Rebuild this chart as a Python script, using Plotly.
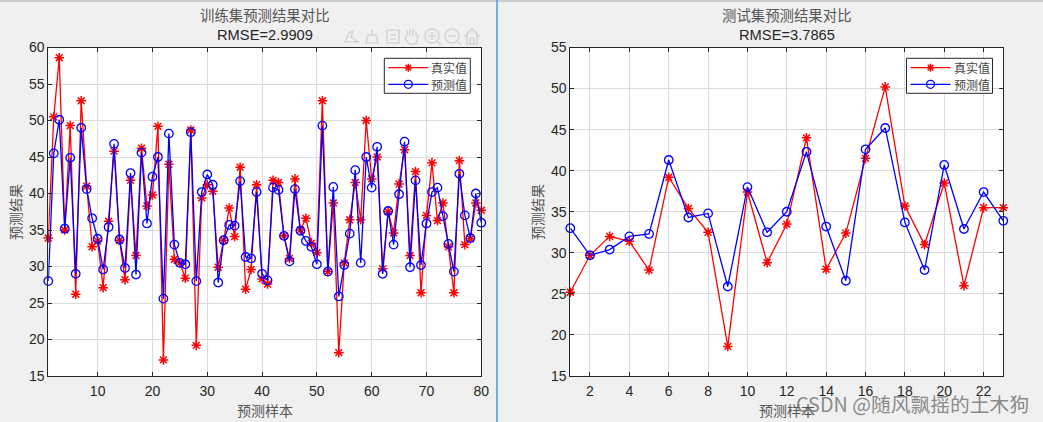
import plotly.graph_objects as go

W, H = 1043, 422

train_x = list(range(1, 81))
train_true = [33.9, 50.5, 58.6, 35, 49.3, 26.2, 52.7, 41, 32.7, 33.5,
              27.1, 36.2, 45.8, 33.6, 28.2, 41.8, 31.5, 46.2, 38.3, 39.8,
              49.2, 17.2, 44, 31, 30.5, 28.4, 48.7, 19.2, 39.4, 41.2,
              40.3, 29.9, 33.6, 38, 34.1, 43.6, 26.9, 29.6, 41.2, 28.3,
              27.6, 41.8, 41.5, 34.2, 31.1, 42, 35, 36.6, 33.2, 31.9,
              52.7, 29.3, 38.7, 18.2, 30.5, 36.4, 41.5, 36.4, 50, 42,
              45, 29.7, 37.5, 34.6, 41.3, 46, 31.5, 43, 26.4, 37,
              44.2, 36.3, 38.7, 32.7, 26.4, 44.5, 33, 33.8, 38.7, 37.7]
train_pred = [28, 45.5, 50.1, 35.2, 44.9, 29, 49, 40.6, 36.6, 33.8,
              29.6, 35.4, 46.8, 33.7, 29.8, 42.8, 28.9, 45.6, 35.9, 42.3,
              45, 25.6, 48.2, 33, 30.5, 30.3, 48.4, 28, 40.2, 42.6,
              41.2, 27.8, 33.6, 35.7, 35.6, 41.7, 31.3, 31.1, 40.2, 29,
              28.1, 40.8, 40.5, 34.2, 30.7, 40.6, 34.9, 33.5, 32.7, 30.3,
              49.3, 29.3, 40.9, 25.9, 30.2, 34.5, 43.2, 30.5, 45, 40.8,
              46.4, 29, 37.6, 33, 39.9, 47.1, 29.9, 41.8, 30.2, 35.9,
              40.2, 40.8, 36.9, 33.1, 29.3, 42.7, 37, 33.9, 40, 36]

test_x = list(range(1, 24))
test_true = [25.2, 29.7, 32, 31.4, 27.9, 39.2, 35.4, 32.5, 18.6, 37.4, 28.8, 33.5,
             44, 28, 32.4, 41.5, 50.2, 35.7, 31, 38.5, 26, 35.5, 35.5]
test_pred = [33, 29.7, 30.4, 32, 32.3, 41.3, 34.3, 34.8, 25.9, 38, 32.5, 35,
             42.3, 33.2, 26.6, 42.6, 45.2, 33.7, 27.9, 40.7, 32.9, 37.4, 33.9]

train_xticks = [10, 20, 30, 40, 50, 60, 70, 80]
test_xticks = list(range(2, 24, 2))
train_yticks = list(range(15, 61, 5))
test_yticks = list(range(15, 56, 5))

INK = "#262626"
GRID = "#dcdcdc"
RED = "#ff0000"
BLUE = "#0000ff"
CJK = "Noto Sans CJK SC"
LATIN = "Liberation Sans"


def px_x(v):
    return v / W


def px_y(v):
    return 1 - v / H


def add_pair(fig, x, y_true, y_pred, xaxis, yaxis):
    fig.add_trace(go.Scatter(x=x, y=y_true, name="真实值", mode="lines+markers",
                             xaxis=xaxis, yaxis=yaxis, cliponaxis=False,
                             line=dict(color=RED, width=1.3),
                             marker=dict(symbol="asterisk-open", size=8,
                                         line=dict(color=RED, width=1.5))))
    fig.add_trace(go.Scatter(x=x, y=y_pred, name="预测值", mode="lines+markers",
                             xaxis=xaxis, yaxis=yaxis, cliponaxis=False,
                             line=dict(color=BLUE, width=1.3),
                             marker=dict(symbol="circle-open", size=8.5,
                                         line=dict(color=BLUE, width=1.3))))


def axis_style(**kw):
    return dict(showline=True, linecolor=INK, linewidth=1, mirror="ticks",
                ticks="inside", ticklen=4, tickcolor=INK, tickwidth=1,
                showgrid=True, gridcolor=GRID, gridwidth=1, zeroline=False,
                tickfont=dict(family=LATIN, size=14, color=INK), **kw)


def text(x, y, s, size, color="#555555", family=CJK, angle=0):
    return dict(x=px_x(x), y=px_y(y), xref="paper", yref="paper", text=s, showarrow=False,
                xanchor="center", yanchor="middle", textangle=angle,
                font=dict(family=family, size=size, color=color))


def paper_shape(kind, x0, y0, x1, y1, color, width=1.3, fill=None):
    s = dict(type=kind, xref="paper", yref="paper", x0=px_x(x0), x1=px_x(x1), y0=px_y(y0), y1=px_y(y1),
             line=dict(color=color, width=width))
    if fill:
        s["fillcolor"] = fill
    return s


def icon_path(p):
    parts = p.replace("Z", " Z ").split()
    out, i = [], 0
    while i < len(parts):
        if parts[i] == "Z":
            out.append("Z")
            i += 1
        else:
            out.append(f"{parts[i][0]}{px_x(float(parts[i][1:])):.5f} {px_y(float(parts[i + 1])):.5f}")
            i += 2
    return " ".join(out)


# native legend can't get as short as the reference box, so it is drawn by hand
def legend_parts(x0):
    cx = x0 + 24
    row1, row2 = 67.7, 84.3
    r = 4
    d = r * 0.7
    shapes = [
        paper_shape("rect", x0, 58.3, x0 + 86, 93.3, INK, 1, "white"),
        paper_shape("line", x0 + 4, row1, x0 + 44, row1, RED),
        paper_shape("line", x0 + 4, row2, x0 + 44, row2, BLUE),
        paper_shape("line", cx - r, row1, cx + r, row1, RED, 1.5),
        paper_shape("line", cx, row1 - r, cx, row1 + r, RED, 1.5),
        paper_shape("line", cx - d, row1 - d, cx + d, row1 + d, RED, 1.5),
        paper_shape("line", cx - d, row1 + d, cx + d, row1 - d, RED, 1.5),
        paper_shape("circle", cx - r, row2 - r, cx + r, row2 + r, BLUE),
    ]
    notes = [text(x0 + 65, row1, "真实值", 12, "#444444"),
             text(x0 + 65, row2, "预测值", 12, "#444444")]
    return shapes, notes


fig = go.Figure()
add_pair(fig, train_x, train_true, train_pred, "x", "y")
add_pair(fig, test_x, test_true, test_pred, "x2", "y2")

# toolbar icons, faint like the disabled ones in the figure window
icon = "#d6d6d6"
icon_paths = [
    "M345 42 L349 33 L353 31 L351 37 L358 42 Z",
    "M372 29 L372 35 M368 35 L376 35 L378 43 L366 43 Z",
    "M387 30 L399 30 L399 43 L387 43 Z M390 35 L396 35 M390 39 L396 39",
    "M407 36 L407 30 M410 36 L410 29 M413 36 L413 29 M416 36 L416 31 M407 36 L405 38 L409 44 L416 44 L418 36 L416 34",
    "M437 41 L441 45 M428 36 L436 36 M432 32 L432 40",
    "M457 41 L461 45 M448 36 L456 36",
    "M464 37 L472 29 L480 37 M467 35 L467 44 L477 44 L477 35 M470 44 L470 38 L474 38 L474 44",
]
shapes = []
for p in icon_paths:
    shapes.append(dict(type="path", xref="paper", yref="paper", path=icon_path(p),
                       line=dict(color=icon, width=1.6)))
for cx in (432, 452):
    shapes.append(paper_shape("circle", cx - 7, 43, cx + 7, 29, icon, 1.6))

# figure window edges
shapes.append(paper_shape("line", 0, 1, W, 1, "#a8a8a8", 1))
shapes.append(paper_shape("line", 497, 0, 497, H, "#3f9bf0", 1.5))

annotations = [
    text(265, 14, "训练集预测结果对比", 14.4),
    text(265, 35, "RMSE=2.9909", 14.7, "#262626", LATIN),
    text(265, 410, "预测样本", 14),
    text(15, 212, "预测结果", 14, angle=-90),
    text(787, 14, "测试集预测结果对比", 14.4),
    text(787, 35, "RMSE=3.7865", 14.7, "#262626", LATIN),
    text(787, 410, "预测样本", 14),
    text(537, 212, "预测结果", 14, angle=-90),
]

for x0 in (384.3, 906.5):
    legend_shapes, legend_notes = legend_parts(x0)
    shapes += legend_shapes
    annotations += legend_notes

annotations.append(text(912.5, 403, "CSDN @随风飘摇的土木狗", 19.8, "rgba(110,110,110,0.8)"))

fig.update_layout(
    width=W, height=H, autosize=False,
    margin=dict(l=0, r=0, t=0, b=0, pad=0, autoexpand=False),
    paper_bgcolor="#f0f0f0", plot_bgcolor="white",
    showlegend=False,
    xaxis=axis_style(domain=[px_x(48.3), px_x(481.3)], range=[1, 80], tickvals=train_xticks,
                     anchor="y", ticklabelstandoff=2),
    yaxis=axis_style(domain=[px_y(376), px_y(47.5)], range=[15, 60], tickvals=train_yticks, anchor="x"),
    xaxis2=axis_style(domain=[px_x(570.3), px_x(1003.3)], range=[1, 23], tickvals=test_xticks,
                      anchor="y2", ticklabelstandoff=2),
    yaxis2=axis_style(domain=[px_y(376), px_y(47.5)], range=[15, 55], tickvals=test_yticks, anchor="x2"),
    shapes=shapes,
    annotations=annotations,
)

fig.write_html("out.html", config=dict(displayModeBar=False),
               post_script="var s=document.body.style;s.margin='0';s.overflow='hidden';")
